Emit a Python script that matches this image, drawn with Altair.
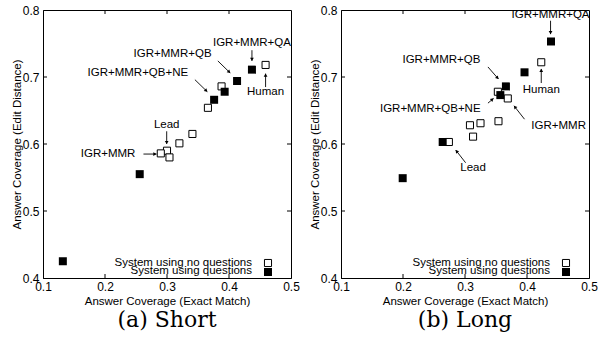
import math
import altair as alt
import pandas as pd

W, H = 248, 268
XD = [0.1, 0.5]
YD = [0.4, 0.8]
FONT = "Liberation Sans"

# ---- data: (a) Short ----
short_q_x = [0.132, 0.256, 0.376, 0.393, 0.413, 0.437]
short_q_y = [0.425, 0.555, 0.666, 0.678, 0.694, 0.711]
short_nq_x = [0.459, 0.388, 0.366, 0.341, 0.320, 0.300, 0.290, 0.304]
short_nq_y = [0.718, 0.686, 0.654, 0.615, 0.601, 0.590, 0.586, 0.580]
short_lab_text = ["IGR+MMR+QA", "IGR+MMR+QB", "IGR+MMR+QB+NE", "Human", "Lead", "IGR+MMR"]
short_lab_x = [0.437, 0.309, 0.253, 0.459, 0.2995, 0.205]
short_lab_y = [0.751, 0.734, 0.706, 0.677, 0.628, 0.585]
short_arr_x1 = [0.437, 0.382, 0.345, 0.459, 0.2995, 0.262]
short_arr_y1 = [0.740, 0.724, 0.696, 0.685, 0.619, 0.585]
short_arr_x2 = [0.437, 0.402, 0.365, 0.459, 0.2995, 0.283]
short_arr_y2 = [0.724, 0.706, 0.678, 0.705, 0.600, 0.585]

# ---- data: (b) Long ----
long_q_x = [0.4387, 0.396, 0.366, 0.357, 0.264, 0.1995]
long_q_y = [0.753, 0.707, 0.686, 0.673, 0.603, 0.549]
long_nq_x = [0.423, 0.353, 0.369, 0.354, 0.325, 0.308, 0.313, 0.274]
long_nq_y = [0.722, 0.678, 0.668, 0.634, 0.631, 0.628, 0.611, 0.603]
long_lab_text = ["IGR+MMR+QA", "IGR+MMR+QB", "IGR+MMR+QB+NE", "IGR+MMR", "Human", "Lead"]
long_lab_x = [0.438, 0.262, 0.244, 0.451, 0.423, 0.313]
long_lab_y = [0.793, 0.725, 0.652, 0.627, 0.680, 0.564]
long_arr_x1 = [0.438, 0.337, 0.337, 0.396, 0.423, 0.301]
long_arr_y1 = [0.784, 0.715, 0.661, 0.637, 0.691, 0.572]
long_arr_x2 = [0.438, 0.354, 0.346, 0.379, 0.423, 0.285]
long_arr_y2 = [0.764, 0.697, 0.668, 0.657, 0.712, 0.591]

x_ticks = [0.1, 0.2, 0.3, 0.4, 0.5]
y_ticks = [0.4, 0.5, 0.6, 0.7, 0.8]
legend_labels = ["System using no questions", "System using questions"]

PXX = W / (XD[1] - XD[0])
PXY = H / (YD[1] - YD[0])


def panel(title, qx, qy, nqx, nqy, lt, lx, ly, ax1, ay1, ax2, ay2):
    xs = alt.Scale(domain=XD, nice=False, zero=False)
    ys = alt.Scale(domain=YD, nice=False, zero=False)
    xax = alt.Axis(values=x_ticks, format=".1f", ticks=False, grid=False, domainColor="black",
                   labelFont=FONT, labelFontSize=12, labelColor="black", labelPadding=3,
                   labelFlush=False, labelOverlap=False,
                   title="Answer Coverage (Exact Match)", titleFont=FONT, titleFontSize=11.5,
                   titleFontWeight="normal", titleColor="black", titlePadding=3)
    yax = alt.Axis(values=y_ticks, format=".1f", ticks=False, grid=False, domainColor="black",
                   labelFont=FONT, labelFontSize=12, labelColor="black", labelPadding=4,
                   labelFlush=False, labelOverlap=False,
                   title="Answer Coverage (Edit Distance)", titleFont=FONT, titleFontSize=11.5,
                   titleFontWeight="normal", titleColor="black", titlePadding=0)

    q = pd.DataFrame({"x": qx, "y": qy})
    nq = pd.DataFrame({"x": nqx, "y": nqy})
    lab = pd.DataFrame({"t": lt, "x": lx, "y": ly})
    heads = []
    for a, b, c, d in zip(ax1, ay1, ax2, ay2):
        dx = (c - a) * PXX
        dy = -(d - b) * PXY
        L = math.hypot(dx, dy)
        ang = math.degrees(math.atan2(dx, -dy)) % 360
        back = 1.5 / L
        heads.append({"x": c - (c - a) * back, "y": d - (d - b) * back, "a": ang})
    arr = pd.DataFrame({"x": ax1, "y": ay1, "x2": ax2, "y2": ay2})
    hd = pd.DataFrame(heads)
    xt = pd.DataFrame({"v": x_ticks[1:-1]})
    yt = pd.DataFrame({"v": y_ticks[1:-1]})

    base_x = alt.X("x:Q", scale=xs, axis=xax)
    base_y = alt.Y("y:Q", scale=ys, axis=yax)

    layers = []
    # inward ticks
    layers.append(alt.Chart(xt).mark_rule(color="black", strokeWidth=1).encode(
        x=alt.X("v:Q", scale=xs, axis=xax), y=alt.value(H), y2=alt.value(H - 4)))
    layers.append(alt.Chart(xt).mark_rule(color="black", strokeWidth=1).encode(
        x=alt.X("v:Q", scale=xs, axis=xax), y=alt.value(0), y2=alt.value(4)))
    layers.append(alt.Chart(yt).mark_rule(color="black", strokeWidth=1).encode(
        y=alt.Y("v:Q", scale=ys, axis=yax), x=alt.value(0), x2=alt.value(4)))
    layers.append(alt.Chart(yt).mark_rule(color="black", strokeWidth=1).encode(
        y=alt.Y("v:Q", scale=ys, axis=yax), x=alt.value(W), x2=alt.value(W - 4)))
    # arrows
    layers.append(alt.Chart(arr).mark_rule(color="black", strokeWidth=0.9).encode(
        x=base_x, y=base_y, x2="x2:Q", y2="y2:Q"))
    layers.append(alt.Chart(hd).mark_point(shape="triangle-up", filled=True, color="black",
                                           size=14, opacity=1).encode(
        x=base_x, y=base_y, angle=alt.Angle("a:Q", scale=None)))
    # points
    layers.append(alt.Chart(nq).mark_point(shape="square", filled=True, fill="white", stroke="black",
                                           strokeWidth=1, size=50, opacity=1).encode(x=base_x, y=base_y))
    layers.append(alt.Chart(q).mark_point(shape="square", filled=True, color="black",
                                          size=64, opacity=1).encode(x=base_x, y=base_y))
    # labels
    layers.append(alt.Chart(lab).mark_text(font=FONT, fontSize=11.5, color="black",
                                           align="center", baseline="middle").encode(
        x=base_x, y=base_y, text="t:N"))
    # legend
    leg = pd.DataFrame({"t": legend_labels})
    layers.append(alt.Chart(leg).transform_filter(alt.datum.t == legend_labels[0]).mark_text(
        font=FONT, fontSize=11.5, color="black", align="right", baseline="middle").encode(
        x=alt.value(209), y=alt.value(253), text="t:N"))
    layers.append(alt.Chart(leg).transform_filter(alt.datum.t == legend_labels[1]).mark_text(
        font=FONT, fontSize=11.5, color="black", align="right", baseline="middle").encode(
        x=alt.value(209), y=alt.value(261), text="t:N"))
    layers.append(alt.Chart(leg).transform_filter(alt.datum.t == legend_labels[0]).mark_point(
        shape="square", filled=True, fill="white", stroke="black", strokeWidth=1, size=50,
        opacity=1).encode(x=alt.value(225), y=alt.value(253)))
    layers.append(alt.Chart(leg).transform_filter(alt.datum.t == legend_labels[1]).mark_point(
        shape="square", filled=True, color="black", size=64, opacity=1).encode(
        x=alt.value(225), y=alt.value(262)))

    return alt.layer(*layers).properties(
        width=W, height=H,
        title=alt.TitleParams(text=title, orient="bottom", font="DejaVu Serif", fontSize=22,
                              fontWeight="normal", color="black", offset=3, anchor="middle"))


left = panel("(a) Short", short_q_x, short_q_y, short_nq_x, short_nq_y, short_lab_text,
             short_lab_x, short_lab_y, short_arr_x1, short_arr_y1, short_arr_x2, short_arr_y2)
right = panel("(b) Long", long_q_x, long_q_y, long_nq_x, long_nq_y, long_lab_text,
              long_lab_x, long_lab_y, long_arr_x1, long_arr_y1, long_arr_x2, long_arr_y2)

chart = alt.hconcat(left, right, spacing=8).properties(
    padding={"left": 10, "top": 3, "right": 5, "bottom": 5},
    background="white",
).configure_view(stroke="black", strokeWidth=1)

chart.save("out.html", embed_options={"renderer": "svg", "actions": False})
